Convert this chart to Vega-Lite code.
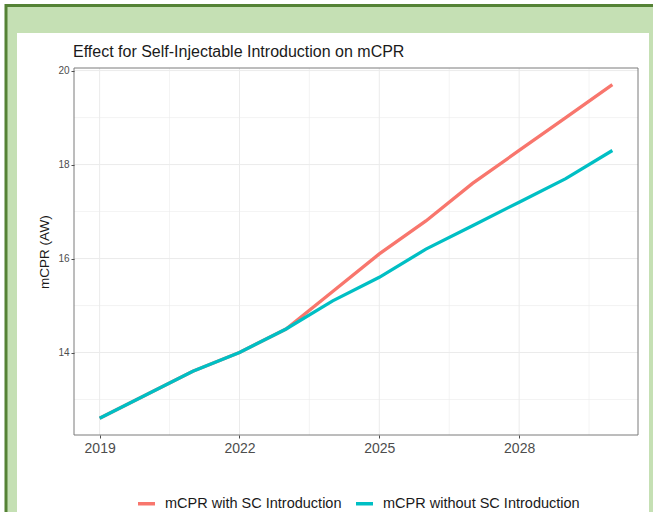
{
  "$schema": "https://vega.github.io/schema/vega-lite/v6.json",
  "width": 564,
  "height": 367,
  "autosize": {"type": "none"},
  "padding": {"left": 74, "top": 68, "right": 15, "bottom": 77},
  "background": "white",
  "title": {
    "text": "Effect for Self-Injectable Introduction on mCPR",
    "anchor": "start",
    "frame": "group",
    "offset": -56,
    "dx": -1,
    "font": "Liberation Sans",
    "fontSize": 16,
    "fontWeight": "normal",
    "color": "#1a1a1a"
  },
  "config": {
    "view": {"stroke": null},
    "axis": {
      "domain": false,
      "grid": false,
      "labelFont": "Liberation Sans",
      "titleFont": "Liberation Sans",
      "labelColor": "#4d4d4d",
      "tickColor": "#4d4d4d",
      "tickSize": 3,
      "tickWidth": 1,
      "labelFlush": false,
      "labelOverlap": false
    },
    "legend": {"labelFont": "Liberation Sans"}
  },
  "datasets": {
    "series": [
      {"year": 2019, "series": "mCPR with SC Introduction", "value": 12.6},
      {"year": 2020, "series": "mCPR with SC Introduction", "value": 13.1},
      {"year": 2021, "series": "mCPR with SC Introduction", "value": 13.6},
      {"year": 2022, "series": "mCPR with SC Introduction", "value": 14.0},
      {"year": 2023, "series": "mCPR with SC Introduction", "value": 14.5},
      {"year": 2024, "series": "mCPR with SC Introduction", "value": 15.3},
      {"year": 2025, "series": "mCPR with SC Introduction", "value": 16.1},
      {"year": 2026, "series": "mCPR with SC Introduction", "value": 16.8},
      {"year": 2027, "series": "mCPR with SC Introduction", "value": 17.6},
      {"year": 2028, "series": "mCPR with SC Introduction", "value": 18.3},
      {"year": 2029, "series": "mCPR with SC Introduction", "value": 19.0},
      {"year": 2030, "series": "mCPR with SC Introduction", "value": 19.7},
      {"year": 2019, "series": "mCPR without SC Introduction", "value": 12.6},
      {"year": 2020, "series": "mCPR without SC Introduction", "value": 13.1},
      {"year": 2021, "series": "mCPR without SC Introduction", "value": 13.6},
      {"year": 2022, "series": "mCPR without SC Introduction", "value": 14.0},
      {"year": 2023, "series": "mCPR without SC Introduction", "value": 14.5},
      {"year": 2024, "series": "mCPR without SC Introduction", "value": 15.1},
      {"year": 2025, "series": "mCPR without SC Introduction", "value": 15.6},
      {"year": 2026, "series": "mCPR without SC Introduction", "value": 16.2},
      {"year": 2027, "series": "mCPR without SC Introduction", "value": 16.7},
      {"year": 2028, "series": "mCPR without SC Introduction", "value": 17.2},
      {"year": 2029, "series": "mCPR without SC Introduction", "value": 17.7},
      {"year": 2030, "series": "mCPR without SC Introduction", "value": 18.3}
    ],
    "xbreaks": [
      {"year": 2019}, {"year": 2020.5}, {"year": 2022}, {"year": 2023.5},
      {"year": 2025}, {"year": 2026.5}, {"year": 2028}, {"year": 2029.5}
    ],
    "ybreaks": [
      {"value": 13}, {"value": 14}, {"value": 15}, {"value": 16},
      {"value": 17}, {"value": 18}, {"value": 19}, {"value": 20}
    ]
  },
  "layer": [
    {
      "data": {"values": [{}]},
      "mark": {"type": "rect", "fill": "#c5e0b4", "stroke": "#548235", "strokeWidth": 3, "clip": false},
      "encoding": {
        "x": {"datum": 2016.991, "type": "quantitative", "scale": {"domain": [2018.45, 2030.55], "nice": false, "zero": false}},
        "x2": {"datum": 2031.451},
        "y": {"datum": 21.385, "type": "quantitative", "scale": {"domain": [12.245, 20.055], "nice": false, "zero": false}},
        "y2": {"datum": 10.011}
      }
    },
    {
      "data": {"values": [{}]},
      "mark": {"type": "rect", "fill": "white", "clip": false},
      "encoding": {
        "x": {"datum": 2017.227, "type": "quantitative", "scale": {"domain": [2018.45, 2030.55], "nice": false, "zero": false}},
        "x2": {"datum": 2030.786},
        "y": {"datum": 20.8, "type": "quantitative", "scale": {"domain": [12.245, 20.055], "nice": false, "zero": false}},
        "y2": {"datum": 10.011}
      }
    },
    {
      "data": {"name": "xbreaks"},
      "mark": {"type": "rule", "color": "#ebebeb"},
      "encoding": {
        "x": {"field": "year", "type": "quantitative", "scale": {"domain": [2018.45, 2030.55], "nice": false, "zero": false}},
        "strokeWidth": {"condition": {"test": "datum.year % 1 == 0", "value": 1}, "value": 0.6}
      }
    },
    {
      "data": {"name": "ybreaks"},
      "mark": {"type": "rule", "color": "#ebebeb"},
      "encoding": {
        "y": {"field": "value", "type": "quantitative", "scale": {"domain": [12.245, 20.055], "nice": false, "zero": false}},
        "strokeWidth": {"condition": {"test": "datum.value % 2 == 0", "value": 1}, "value": 0.6}
      }
    },
    {
      "data": {"name": "series"},
      "mark": {"type": "line", "strokeWidth": 3.3, "strokeCap": "butt"},
      "encoding": {
        "x": {
          "field": "year",
          "type": "quantitative",
          "scale": {"domain": [2018.45, 2030.55], "nice": false, "zero": false},
          "axis": {
            "zindex": 1,
            "title": null,
            "values": [2019, 2022, 2025, 2028],
            "format": "d",
            "labelFontSize": 14,
            "labelPadding": 3
          }
        },
        "y": {
          "field": "value",
          "type": "quantitative",
          "scale": {"domain": [12.245, 20.055], "nice": false, "zero": false},
          "axis": {
            "zindex": 1,
            "title": "mCPR (AW)",
            "titleFontSize": 13.5,
            "titleFontWeight": "normal",
            "titleColor": "#1a1a1a",
            "titlePadding": 6,
            "values": [14, 16, 18, 20],
            "format": "d",
            "labelFontSize": 10,
            "labelPadding": 2
          }
        },
        "color": {
          "field": "series",
          "type": "nominal",
          "scale": {
            "domain": ["mCPR with SC Introduction", "mCPR without SC Introduction"],
            "range": ["#F8766D", "#00BFC4"]
          },
          "legend": {
            "title": null,
            "orient": "none",
            "direction": "horizontal",
            "legendX": 62,
            "legendY": 425,
            "symbolType": "stroke",
            "symbolSize": 289,
            "symbolStrokeWidth": 3.5,
            "labelFontSize": 14.5,
            "labelColor": "#1a1a1a",
            "labelOffset": 8,
            "columnPadding": 7,
            "labelLimit": 400
          }
        }
      }
    },
    {
      "data": {"values": [{}]},
      "mark": {"type": "rect", "filled": false, "stroke": "#7a7a7a", "strokeWidth": 1, "clip": false},
      "encoding": {
        "x": {"datum": 2018.45, "type": "quantitative", "scale": {"domain": [2018.45, 2030.55], "nice": false, "zero": false}},
        "x2": {"datum": 2030.55},
        "y": {"datum": 20.055, "type": "quantitative", "scale": {"domain": [12.245, 20.055], "nice": false, "zero": false}},
        "y2": {"datum": 12.245}
      }
    }
  ]
}
